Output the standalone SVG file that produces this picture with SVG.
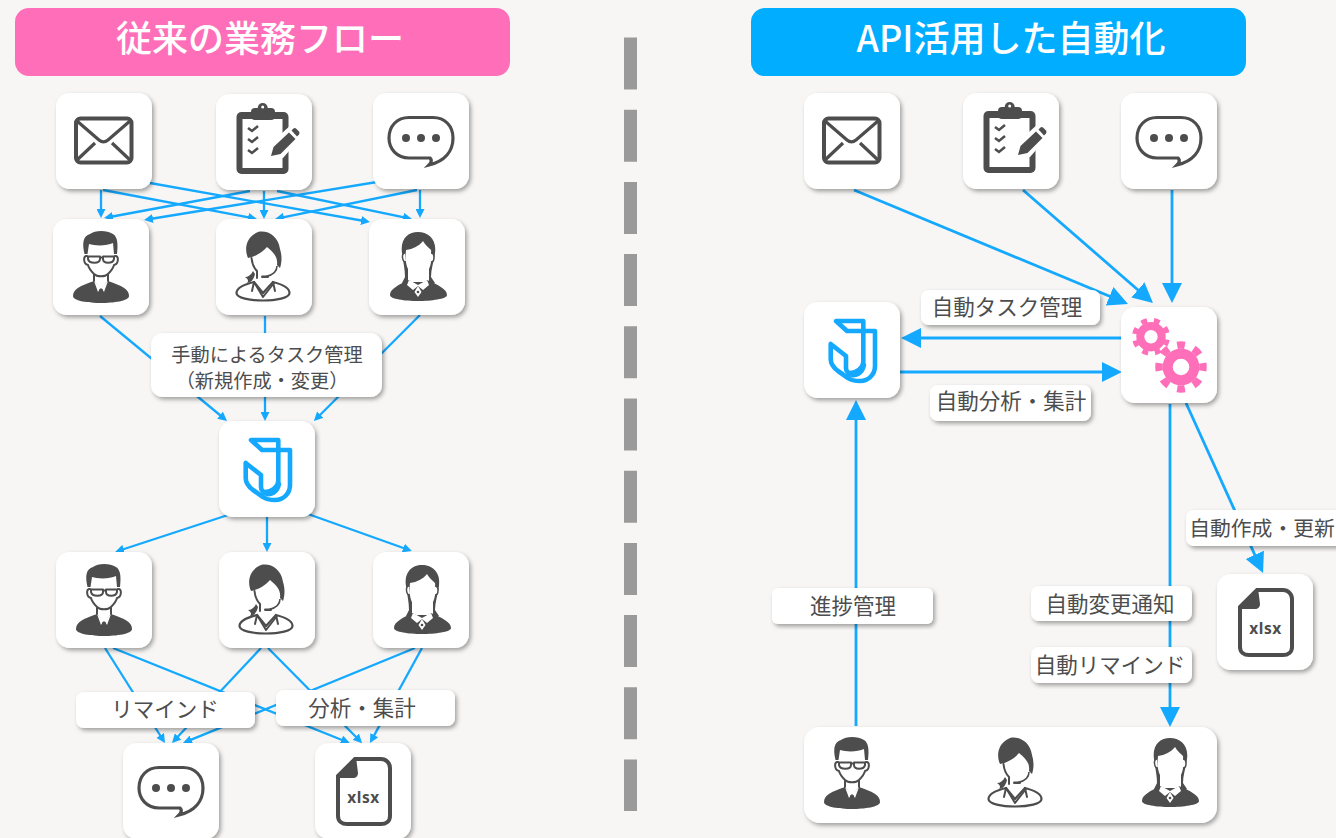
<svg xmlns="http://www.w3.org/2000/svg" width="1336" height="838" viewBox="0 0 1336 838">
<style>
text{font-family:"Noto Sans CJK JP","Noto Sans",sans-serif;fill:#4d4d4d;text-anchor:middle}
.hd{font-size:36px;font-weight:500;fill:#fff}
.lb{font-size:21.5px}
.lb2{font-size:19.2px}
.tile{fill:#fff;filter:url(#sh)}
.c1{stroke:#14a9ff;stroke-width:2.300;fill:none;marker-end:url(#a1)}
.c2{stroke:#14a9ff;stroke-width:2.800;fill:none;marker-end:url(#a2)}
.d{fill:#4d4d4d}
.o{fill:none;stroke:#4d4d4d;stroke-width:2;stroke-linejoin:round;stroke-linecap:round}
.w{fill:#fff}
.pk{fill:none;stroke:#ff6fb9}
.jl{fill:none;stroke:#14a9ff;stroke-width:4.600;stroke-linejoin:round;stroke-linecap:round}
</style>
<defs>
<filter id="sh" x="-15%" y="-15%" width="130%" height="130%"><feDropShadow dx="2" dy="2.5" stdDeviation="2" flood-color="#000" flood-opacity="0.35"/></filter>
<marker id="a1" markerUnits="userSpaceOnUse" markerWidth="9" markerHeight="9" refX="6" refY="4.500" orient="auto"><path d="M0 0L9 4.500L0 9Z" fill="#14a9ff"/></marker>
<marker id="a2" markerUnits="userSpaceOnUse" markerWidth="20" markerHeight="20" refX="15" refY="10" orient="auto"><path d="M0 0L20 10L0 20Z" fill="#14a9ff"/></marker>
<symbol id="mail" width="96" height="96" overflow="visible">
<rect x="20" y="25.500" width="55.500" height="44" rx="4.500" fill="none" stroke="#4d4d4d" stroke-width="4"/>
<path d="M21 28L43 47C46 49.500 49 49.500 52 47L74 28M21 67L39 50M74 67L56 50" fill="none" stroke="#4d4d4d" stroke-width="3.200"/>
</symbol>
<symbol id="clip" width="96" height="96" overflow="visible">
<rect x="20.500" y="18" width="52" height="62" rx="5" class="d"/>
<rect x="26.500" y="25" width="40" height="49" class="w"/>
<rect x="35" y="14" width="24" height="12" rx="4" class="d"/>
<circle cx="46.700" cy="14" r="5" class="d"/><circle cx="46.700" cy="13" r="1.500" class="w"/>
<path d="M32 34l4 3 6-5M32 45l4 3 6-5M32 56l4 3 6-5" fill="none" stroke="#4d4d4d" stroke-width="2.500"/>
<path d="M52 65L54 50L76 30L88 40L67 64Z" class="w"/>
<path d="M55 62L57.500 53L73 38.500L79.500 45L64.500 60Z" class="d"/>
<path d="M75.500 36.500L77.500 34.500Q79 33.500 80.500 35L83 37.500Q84 39 83 40.500L81 42.500Z" class="d"/>
</symbol>
<symbol id="chat" width="96" height="96" overflow="visible">
<path d="M36 24.500H60C72 24.500 80 33 80 45C80 58 72 68 56 72C59 69 59 67 57 65H36C24 65 16 56 16 45C16 33 24 24.500 36 24.500Z" fill="none" stroke="#4d4d4d" stroke-width="3.200"/>
<circle cx="33" cy="45" r="4" class="d"/><circle cx="48" cy="45" r="4" class="d"/><circle cx="63" cy="45" r="4" class="d"/>
</symbol>
<symbol id="man" width="96" height="96" overflow="visible">
<path d="M31.500 35C29 24 30 17 37 15C42 11 54 11 60 15C65 18 65 26 64 35L61 35L60 24C54 27 42 27 36 25L34.500 35Z" class="d"/>
<path d="M34 37C30 36 30 45 35 46C36 50 39 53 41 55L41 63M62 37C66 36 66 45 61 46C60 50 57 53 55 55L55 63M41 55C44 58 52 58 55 55" class="o"/>
<path d="M35 37.500H47V40C47 45 36 45 35 40ZM50 37.500H61V40C60 45 50 45 50 40ZM47 38.500H50" class="o"/>
<path d="M20 77C20 70 27 67 41 62L48 70L55 62C69 67 76 70 76 77C76 82 60 84 48 84C36 84 20 82 20 77Z" class="d"/>
<path d="M41 62L45 73L48 68L51 73L55 62L48 69Z" class="w"/>
<path d="M46.500 70H49.500L50 79L48 82L46 79Z" class="d"/>
</symbol>
<symbol id="op" width="96" height="96" overflow="visible">
<path d="M20.500 74C20.500 68 30 65 38 63L47 74L57 63C65 65 73.500 68 73.500 74C73.500 79 60 81.500 47 81.500C34 81.500 20.500 79 20.500 74Z" fill="#fff" stroke="#4d4d4d" stroke-width="2.200"/>
<path d="M38 63L36 72M38 63L47 78L58 64M57 63L59 72" class="o"/>
<path d="M32 39C28 30 30 18 42 13C52 11 62 17 64 30C66 36 66 43 64 49L61 46C62 38 58 34 51 28C46 34 38 38 32 39Z" class="d"/>
<path d="M35.500 39C36 44 38 49 41 52V59" class="o"/>
<path d="M29 58C32 58 35 56 37 52L39 55C38 60 35 64 31 64C33 62 32 60 29 58Z" class="d"/>
<path d="M61 47C61 52 57 56 50 57.500" fill="none" stroke="#4d4d4d" stroke-width="1.600"/>
<rect x="45" y="56.500" width="8" height="2.600" rx="1.300" class="d"/>
</symbol>
<symbol id="wm" width="96" height="96" overflow="visible">
<path d="M33 34C31 20 39 13 49 13C59 13 68 20 66 34C65 42 62 50 62 58L66 64L49 70L33 64L36 58C36 50 34 42 33 34Z" class="d"/>
<path d="M37 31C44 30 50 27 54 22C56 26 60 29 62 31C63 40 62 46 60 50L60 63L39 63L39 50C37 46 36 40 37 31Z" class="w"/>
<path d="M36 34C32 34 33 43 37 43M62 34C66 34 66 43 62 43" fill="#fff" stroke="#4d4d4d" stroke-width="1.500"/>
<path d="M21 76C21 70 29 66 40 61L49 67L58 61C69 66 78 70 78 76C78 80 62 82 49 82C36 82 21 80 21 76Z" class="d"/>
<path d="M40 61L49 66L58 61L60 66L54 71L49 67L44 71L38 66Z" class="w"/>
<path d="M49 67L52.500 73L49 78L45.500 73Z" class="w"/><circle cx="49" cy="73" r="1.300" class="d"/>
</symbol>
<symbol id="xlsx" width="96" height="96" overflow="visible">
<path d="M23 33L40 16H66C71 16 75 20 75 25V73C75 78 71 81 66 81H32C27 81 23 78 23 73Z" fill="none" stroke="#4d4d4d" stroke-width="4"/>
<path d="M22 35L41 14L43 30C43 33 41 35 38 35Z" class="d"/>
<text x="48.500" y="60" style="font-family:'Noto Sans',sans-serif;font-size:15.500px;font-weight:700;letter-spacing:.6px">xlsx</text>
</symbol>
<symbol id="j" width="96" height="96" overflow="visible">
<path class="jl" d="M32 19H59.300V60C59.300 66 52 71 46 71C44 71 42 69 42 66V54L26.700 42V57C26.700 62 30 66 34 69L44 76C48 79 52 79 56 79C65 79 71 72 71 64V29H43L32 19Z"/>
<path class="jl" stroke-width="3" d="M45 72C51 75 58 72 60 63"/>
</symbol>
</defs>
<rect width="1336" height="838" fill="#f7f6f5"/>
<line x1="630.500" y1="37.500" x2="630.500" y2="811" stroke="#9a9a9a" stroke-width="13" stroke-dasharray="52 20.200"/>
<g id="connectors">
<path class="c1" d="M101 190V215"/><path class="c1" d="M103 190L254 218.400"/><path class="c1" d="M150 183L367 221.500"/>
<path class="c1" d="M264 191V216"/><path class="c1" d="M250 191L107 217.500"/><path class="c1" d="M277 191L409 218.400"/>
<path class="c1" d="M420 190V215"/><path class="c1" d="M417 190L278 218.400"/><path class="c1" d="M377 182L147 219.500"/>
<path class="c1" d="M100 316L224.700 419"/><path class="c1" d="M265 316V418"/><path class="c1" d="M420 315L316 419"/>
<path class="c1" d="M228 515L118 551"/><path class="c1" d="M267 517V549"/><path class="c1" d="M308 514L409 550"/>
<path class="c1" d="M105 648L163.400 740.500"/><path class="c1" d="M113 648L347 742"/><path class="c1" d="M261 648L174 740.800"/>
<path class="c1" d="M268 648L360 741"/><path class="c1" d="M415 648L185.800 741.900"/><path class="c1" d="M422 648L371.400 740.400"/>
<path class="c2" d="M854 190L1123.400 302"/><path class="c2" d="M1023 190L1149.200 299.700"/><path class="c2" d="M1172 190V298"/>
<path class="c2" d="M1121 338H906"/><path class="c2" d="M900 372H1117"/><path class="c2" d="M856 726V405"/>
<path class="c2" d="M1170 404V722"/><path class="c2" d="M1186 403L1261 568.500"/>
</g>
<g id="title-left"><rect x="15" y="8" width="495" height="68" rx="14" fill="#ff6fb9"/><text class="hd" x="260" y="52">従来の業務フロー</text></g>
<g id="title-right"><rect x="751" y="8" width="495" height="68" rx="14" fill="#00adff"/><text class="hd" x="1011" y="52">API活用した自動化</text></g>

<g id="l-mail"><rect class="tile" x="56" y="93" width="96" height="96" rx="14"/><use href="#mail" x="56" y="93"/></g>
<g id="l-form"><rect class="tile" x="216" y="94" width="96" height="96" rx="14"/><use href="#clip" x="216" y="94"/></g>
<g id="l-chat"><rect class="tile" x="373" y="93" width="96" height="96" rx="14"/><use href="#chat" x="373" y="93"/></g>
<g id="l-p1"><rect class="tile" x="53" y="219" width="96" height="96" rx="14"/><use href="#man" x="53" y="219"/></g>
<g id="l-p2"><rect class="tile" x="216" y="219" width="96" height="96" rx="14"/><use href="#op" x="216" y="219"/></g>
<g id="l-p3"><rect class="tile" x="369" y="219" width="96" height="96" rx="14"/><use href="#wm" x="369" y="219"/></g>
<g id="l-manual"><rect class="tile" x="151" y="333" width="231" height="64" rx="12"/><text class="lb2" x="267" y="362">手動によるタスク管理</text><text class="lb2" x="262" y="388">（新規作成・変更）</text></g>
<g id="l-j"><rect class="tile" x="219" y="421" width="96" height="96" rx="14"/><use href="#j" x="219" y="421"/></g>
<g id="l-p4"><rect class="tile" x="56" y="552" width="96" height="96" rx="14"/><use href="#man" x="56" y="552"/></g>
<g id="l-p5"><rect class="tile" x="219" y="552" width="96" height="96" rx="14"/><use href="#op" x="219" y="552"/></g>
<g id="l-p6"><rect class="tile" x="373" y="552" width="96" height="96" rx="14"/><use href="#wm" x="373" y="552"/></g>
<g id="l-remind"><rect class="tile" x="76" y="692" width="179" height="36" rx="8"/><text class="lb" x="165" y="717">リマインド</text></g>
<g id="l-analysis"><rect class="tile" x="276" y="690" width="179" height="36" rx="8"/><text class="lb" x="362" y="716">分析・集計</text></g>
<g id="l-chat2"><rect class="tile" x="123" y="743" width="96" height="96" rx="14"/><use href="#chat" x="123" y="743"/></g>
<g id="l-xlsx"><rect class="tile" x="315" y="743" width="96" height="96" rx="14"/><use href="#xlsx" x="315" y="743"/></g>

<g id="r-mail"><rect class="tile" x="804" y="93" width="96" height="96" rx="14"/><use href="#mail" x="804" y="93"/></g>
<g id="r-form"><rect class="tile" x="963" y="93" width="96" height="96" rx="14"/><use href="#clip" x="963" y="93"/></g>
<g id="r-chat"><rect class="tile" x="1121" y="93" width="96" height="96" rx="14"/><use href="#chat" x="1121" y="93"/></g>
<g id="r-j"><rect class="tile" x="804" y="302" width="96" height="96" rx="14"/><use href="#j" x="804" y="302"/></g>
<g id="r-gears"><rect class="tile" x="1121" y="307" width="96" height="96" rx="14"/>
<circle class="pk" cx="1151" cy="336.700" r="10.700" stroke-width="8"/><circle class="pk" cx="1151" cy="336.700" r="16.500" stroke-width="5" pathLength="8" stroke-dasharray=".46 .54" stroke-dashoffset=".77"/>
<circle class="pk" cx="1181" cy="367" r="13.300" stroke-width="10"/><circle class="pk" cx="1181" cy="367" r="22" stroke-width="7.500" pathLength="8" stroke-dasharray=".46 .54" stroke-dashoffset=".23"/></g>
<g id="r-task"><rect class="tile" x="921" y="290" width="179" height="35" rx="8"/><text class="lb" x="1007" y="315">自動タスク管理</text></g>
<g id="r-analysis"><rect class="tile" x="930" y="385" width="161" height="36" rx="8"/><text class="lb" x="1011" y="409">自動分析・集計</text></g>
<g id="r-update"><rect class="tile" x="1186" y="510" width="160" height="36" rx="8"/><text x="1262" y="536" style="font-size:20.800px">自動作成・更新</text></g>
<g id="r-xlsx"><rect class="tile" x="1217" y="574" width="96" height="96" rx="14"/><use href="#xlsx" x="1217" y="574"/></g>
<g id="r-progress"><rect class="tile" x="772" y="588" width="161" height="36" rx="6"/><text class="lb" x="853" y="614">進捗管理</text></g>
<g id="r-notify"><rect class="tile" x="1031" y="586" width="161" height="35" rx="8"/><text class="lb" x="1110" y="612">自動変更通知</text></g>
<g id="r-remind"><rect class="tile" x="1031" y="647" width="161" height="36" rx="8"/><text class="lb" x="1110" y="673">自動リマインド</text></g>
<g id="r-people"><rect class="tile" x="804" y="727" width="413" height="96" rx="16"/><use href="#man" x="804" y="725"/><use href="#op" x="968" y="725"/><use href="#wm" x="1121" y="725"/></g>
</svg>
